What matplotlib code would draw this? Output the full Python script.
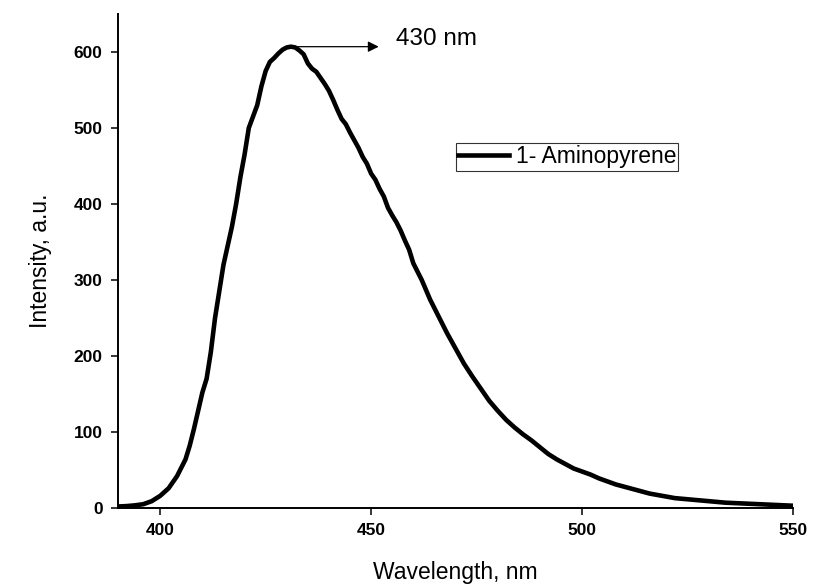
import matplotlib
matplotlib.use("Agg")
import matplotlib.pyplot as plt
import numpy as np

# フォント設定 (Arial 相当)
matplotlib.rcParams['font.family'] = ['Liberation Sans', 'DejaVu Sans']

# --- データ ---
wavelength = [390, 392, 394, 396, 398, 400, 402, 404, 406, 407, 408, 409, 410, 411, 412,
              413, 414, 415, 416, 417, 418, 419, 420, 421, 422, 423, 424, 425, 426, 427,
              428, 429, 430, 431, 432, 433, 434, 435, 436, 437, 438, 439, 440, 441, 442,
              443, 444, 445, 446, 447, 448, 449, 450, 451, 452, 453, 454, 455, 456, 457,
              458, 459, 460, 462, 464, 466, 468, 470, 472, 474, 476, 478, 480, 482, 484,
              486, 488, 490, 492, 494, 496, 498, 500, 502, 504, 506, 508, 510, 512, 514,
              516, 518, 520, 522, 524, 526, 528, 530, 532, 534, 536, 538, 540, 542, 544,
              546, 548, 550]
intensity = [2, 2.5, 3.5, 5, 9, 16, 26, 42, 64, 82, 104, 128, 152, 170, 205,
             250, 285, 320, 345, 370, 400, 435, 465, 500, 515, 530, 555, 575, 587, 592,
             598, 603, 606, 607, 606, 602, 597, 585, 578, 574, 566, 558, 549, 537, 524,
             512, 505, 494, 484, 474, 462, 453, 440, 432, 420, 410, 395, 385, 376, 365,
             352, 340, 322, 300, 274, 252, 230, 210, 190, 173, 157, 141, 128, 116, 106,
             97, 89, 80, 71, 64, 58, 52, 48, 44, 39, 35, 31, 28, 25, 22,
             19, 17, 15, 13, 12, 11, 10, 9, 8, 7, 6.5, 6, 5.5, 5, 4.5,
             4, 3.5, 3]
series_label = "1- Aminopyrene"
peak_label = "430 nm"
x_ticks = [400, 450, 500, 550]
y_ticks = [0, 100, 200, 300, 400, 500, 600]

fig = plt.figure(figsize=(8.14, 5.88), dpi=100)
ax = fig.add_axes([118 / 814, 80 / 588, 675 / 814, 494 / 588])

ax.plot(wavelength, intensity, color='black', linewidth=3.3, label=series_label)

# ピーク位置の矢印と注記
i_max = int(np.argmax(intensity))
ax.annotate('', xy=(451.8, intensity[i_max]), xytext=(wavelength[i_max], intensity[i_max]),
            arrowprops=dict(arrowstyle='-|>', color='black', lw=0.9,
                            mutation_scale=16, shrinkA=0, shrinkB=0))
ax.text(456, 617, peak_label, fontsize=17.5, va='center', ha='left')

# 軸の設定
ax.set_xlim(390, 550)
ax.set_ylim(0, 650)
ax.set_xticks(x_ticks)
ax.set_yticks(y_ticks)
ax.spines['top'].set_visible(False)
ax.spines['right'].set_visible(False)
for s in ['left', 'bottom']:
    ax.spines[s].set_linewidth(1.4)
ax.tick_params(direction='out', length=5, width=1.1, labelsize=12.5, pad=6)
for lbl in ax.get_xticklabels() + ax.get_yticklabels():
    lbl.set_fontweight('bold')

ax.set_xlabel("Wavelength, nm", fontsize=16.5, labelpad=16)
ax.set_ylabel("Intensity, a.u.", fontsize=16.5, labelpad=16)

leg = ax.legend(loc='upper left', bbox_to_anchor=(0.5007, 0.739), fontsize=16.5,
                frameon=True, fancybox=False, borderaxespad=0, borderpad=0.1,
                handlelength=2.2, handletextpad=0.3)
leg.get_frame().set_edgecolor('black')
leg.get_frame().set_linewidth(0.8)

fig.savefig("out.png", dpi=100)
